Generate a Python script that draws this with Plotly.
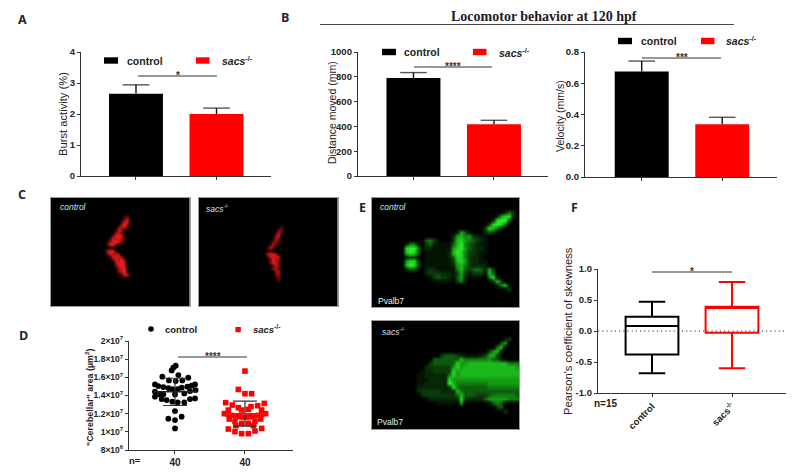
import plotly.graph_objects as go

W, H = 795, 473

# ---------- data ----------
GROUPS = ["control", "sacs-/-"]
burst_mean = [2.65, 2.0]
burst_err = [0.29, 0.19]
distance_mean = [790, 417]
distance_err = [44, 32]
velocity_mean = [0.676, 0.337]
velocity_err = [0.066, 0.045]

area_ctrl_dx = [.01,-.024,-.048,.048,-.181,.19,-.086,.01,.105,-.286,.286,-.238,.238,-.167,.176,-.095,.095,-.038,.038,0,
                -.286,.295,.214,-.167,.133,0,-.286,-.214,-.19,-.119,-.038,.038,.133,.214,.286,0,.095,-.095,0,0]
area_ctrl = [1.728,1.706,1.676,1.625,1.607,1.596,1.566,1.559,1.566,1.522,1.522,1.504,1.508,1.493,1.497,1.482,1.486,1.471,1.471,1.456,
             1.442,1.46,1.449,1.412,1.423,1.412,1.387,1.412,1.361,1.35,1.332,1.324,1.324,1.361,1.368,1.229,1.167,1.145,1.13,1.038]
area_sacs_dx = [0,-.095,0,.095,-.276,.276,-.181,.181,-.095,.086,-.048,.048,-.238,.238,-.295,.295,-.238,.238,-.19,.19,
                -.133,.133,-.076,.076,-.024,.024,-.224,.224,-.143,.143,-.048,.048,-.129,.119,-.238,.238,-.143,.143,-.048,.048]
area_sacs = [1.669,1.467,1.42,1.42,1.321,1.313,1.295,1.288,1.266,1.277,1.24,1.247,1.24,1.24,1.2,1.2,1.192,1.192,1.181,1.181,
             1.174,1.174,1.167,1.167,1.163,1.163,1.141,1.141,1.112,1.112,1.093,1.093,1.068,1.068,1.031,1.038,1.002,1.009,.98,.98]
area_mean = [1.44, 1.2]
area_sd = [0.15, 0.137]
area_ticks = [0.8, 1.0, 1.2, 1.4, 1.6, 1.8, 2.0]
area_ticktext = ["8×10<sup>6</sup>", "1×10<sup>7</sup>", "1.2×10<sup>7</sup>", "1.4×10<sup>7</sup>",
                 "1.6×10<sup>7</sup>", "1.8×10<sup>7</sup>", "2×10<sup>7</sup>"]

skew_low = [-0.68, -0.60]
skew_q1 = [-0.38, -0.03]
skew_med = [0.08, 0.37]
skew_q3 = [0.23, 0.39]
skew_high = [0.47, 0.79]

# Micrographs as coarse intensity grids (0-9).
C_CONTROL = ["00000000000120000000","00000000000460000000","00000000003780000000","00000000006960000000",
             "00000000057840000000","00000000286300000000","00000001675000000000","00000005897300000000",
             "00000038787300000000","00000268985000000000","00000389520000000000","00000110000000000000",
             "00000689300000000000","00000487760000000000","00000038886000000000","00000005879500000000",
             "00000000789700000000","00000000589700000000","00000000268900000000","00000000067900000000",
             "00000000005870000000","00000000001220000000"]
C_SACS = ["00000000014000000000","00000000055000000000","00000000374000000000","00000000680000000000",
          "00000002750000000000","00000005640000000000","00000037400000000000","00000276000000000000",
          "00000120000000000000","00000688620000000000","00000278870000000000","00000048760000000000",
          "00000058840000000000","00000004760000000000","00000005740000000000","00000000670000000000",
          "00000000560000000000","00000000260000000000","00000000030000000000"]
BLANK = "0" * 37
E_CONTROL = [BLANK, BLANK, BLANK,
             "0"*33+"243"+"0",
             "0"*31+"26882"+"0",
             "0"*30+"28994"+"00",
             "0"*29+"38985"+"000",
             "0"*28+"38752"+"0000",
             "0"*21+"264"+"1"+"000"+"2431"+"00000",
             "0"*20+"2675"+"6"+"3211"+"0"*8,
             "0"*13+"45"+"31"+"000"+"3786"+"5"+"4321"+"0"*8,
             "0"*8+"2552"+"0"+"34"+"211"+"11"+"4795"+"4"+"3211"+"0"*8,
             "0"*8+"8995"+"1"+"22"+"111"+"11"+"6896"+"4"+"3221"+"0"*8,
             "0"*8+"7984"+"0"+"11"+"111"+"12"+"7985"+"3"+"3211"+"0"*8,
             "0"*8+"2331"+"0"+"11"+"111"+"12"+"4885"+"3"+"2210"+"0"*8,
             "0"*8+"6883"+"0"+"11"+"111"+"11"+"3786"+"3"+"2211"+"0"*8,
             "0"*8+"7984"+"0"+"11"+"111"+"11"+"2675"+"3"+"2222"+"0"*8,
             "0"*8+"2441"+"0"+"23"+"211"+"11"+"1574"+"3"+"4542"+"6"+"3"+"0"*6,
             "0"*13+"23"+"33"+"22"+"2"+"1363"+"1"+"3331"+"7"+"4"+"0"*6,
             "0"*14+"13"+"43"+"32"+"1462"+"0"+"1100"+"58"+"1"+"00000",
             "0"*16+"11"+"11"+"0"+"352"+"0"*6+"37"+"3"+"0000",
             "0"*31+"257"+"1"+"00",
             "0"*33+"13"+"00",
             BLANK, BLANK, BLANK, BLANK]
E_SACS = [BLANK, BLANK, BLANK, BLANK,
          "0"*33+"2300",
          "0"*32+"46000",
          "0"*31+"570000",
          "0"*29+"36720000",
          "0"*17+"3444"+"3"+"211112"+"36"+"73"+"00000",
          "0"*15+"4444444"+"7"+"555555"+"6"+"44"+"21000",
          "0"*14+"3444444"+"8"+"667777777777"+"555",
          "0"*13+"2333333"+"6"+"8"+"677777777777776",
          "0"*12+"12233333"+"8"+"6"+"777777777777777",
          "0"*11+"11222222"+"5"+"8"+"6777777777777777",
          "0"*11+"11122222"+"8"+"6"+"6666666666666666",
          "0"*11+"11222222"+"9"+"7"+"55555555"+"66666666",
          "0"*11+"222222222"+"8"+"5"+"444444455555555",
          "0"*11+"233333"+"2222"+"7"+"5"+"44444444444444",
          "0"*12+"233333333"+"4"+"7"+"444333"+"45555554",
          "0"*14+"22222222"+"8"+"3"+"2222"+"466666555",
          "0"*16+"11111"+"0"+"6"+"0000000"+"454"+"0000",
          "0"*31+"34"+"0000",
          "0"*33+"3"+"000",
          BLANK, BLANK, BLANK, BLANK]
TITLE = "Locomotor behavior at 120 hpf"
SACS_LABEL = "<i>sacs</i><sup>-/-</sup>"

# ---------- layout helpers ----------
FONT = "Liberation Sans"
INK = "#222222"
AXIS = "#333333"

def fx(p): return p / W
def fy(p): return 1 - p / H

def grid(rows):
    return [[int(c) for c in r] for r in rows]

def pad(rows, left, top, ncol, nrow):
    g = [[0] * ncol for _ in range(nrow)]
    for j, r in enumerate(rows):
        for i, c in enumerate(r):
            g[top + j][left + i] = int(c)
    return g

fig = go.Figure()
layout = dict(width=W, height=H, margin=dict(l=0, r=0, t=0, b=0, autoexpand=False), paper_bgcolor="white",
              plot_bgcolor="white", showlegend=False, font=dict(family=FONT, color=INK))
shapes, ann = [], []

def note(text, x, y, size=10, bold=False, color=INK, anchor="left", family=FONT, angle=0):
    t = f"<b>{text}</b>" if bold else text
    ann.append(dict(text=t, x=fx(x), y=fy(y), xref="paper", yref="paper", showarrow=False, xanchor=anchor,
                    yanchor="middle", textangle=angle, font=dict(size=size, color=color, family=family)))

def rect(x0, y0, x1, y1, color, kind="rect"):
    shapes.append(dict(type=kind, xref="paper", yref="paper", x0=fx(x0), x1=fx(x1), y0=fy(y0), y1=fy(y1),
                       fillcolor=color, line=dict(width=0)))

def seg(x0, x1, y, color="#333333", w=1.2):
    shapes.append(dict(type="line", xref="paper", yref="paper", x0=fx(x0), x1=fx(x1), y0=fy(y), y1=fy(y),
                       line=dict(color=color, width=w)))

def axes(n, left, right, top, bottom, xr, yr, tickvals, ticktext=None, tfs=9.5, angle=0, xticks=None, xtickfs=10):
    k = "" if n == 1 else str(n)
    layout["xaxis" + k] = dict(domain=[fx(left), fx(right)], range=xr, anchor="y" + k, showgrid=False, zeroline=False,
                               showline=True, linecolor=AXIS, linewidth=1.3, ticks="outside", ticklen=3,
                               tickwidth=1.2, tickcolor=AXIS, tickvals=[0, 1], showticklabels=bool(xticks),
                               ticktext=xticks, tickangle=angle,
                               tickfont=dict(size=xtickfs, family=FONT, color=INK, weight="bold"))
    layout["yaxis" + k] = dict(domain=[fy(bottom), fy(top)], range=yr, anchor="x" + k, showgrid=False, zeroline=False,
                               showline=True, linecolor=AXIS, linewidth=1.3, ticks="outside", ticklen=3,
                               tickwidth=1.2, tickcolor=AXIS, tickvals=tickvals, ticktext=ticktext,
                               tickfont=dict(size=tfs, family=FONT, color=INK, weight="bold"))

def ytitle(text, x, y, size=11.2, bold=False):
    note(text, x, y, size=size, bold=bold, anchor="center", angle=-90)

def bars(n, values, errs, cap=19):
    k = "" if n == 1 else str(n)
    fig.add_trace(go.Bar(x=[0, 1], y=values, width=0.67, marker=dict(color=["#000000", "#ff0000"], line=dict(width=0)),
                         xaxis="x" + k, yaxis="y" + k, name="", hoverinfo="y"))
    for i in range(2):
        fig.add_trace(go.Scatter(x=[i, i], y=[values[i], values[i] + errs[i]], mode="lines+markers",
                                 line=dict(color="#111111", width=1.4),
                                 marker=dict(symbol="line-ew", size=[0, cap], line=dict(color="#111111", width=1.4)),
                                 xaxis="x" + k, yaxis="y" + k, name="", hoverinfo="skip"))

def legend_block(y, x1, x2, x3, x4):
    rect(x1, y - 3.2, x1 + 14, y + 3.2, "#000000")
    note("control", x2, y, size=10.5, bold=True)
    rect(x3, y - 3.2, x3 + 13.5, y + 3.2, "#ff0000")
    note(SACS_LABEL, x4, y, size=10.5, bold=True)

def sig(x0, x1, y, stars):
    seg(x0, x1, y)
    note(stars, (x0 + x1) / 2, y - 1, size=10, bold=True, anchor="center", color="#333333")

def image(n, left, right, top, bottom, z, ncol, nrow, scale):
    k = str(n)
    fig.add_trace(go.Heatmap(z=z, zmin=0, zmax=9, zsmooth="best", showscale=False, hoverinfo="skip",
                             colorscale=scale, xaxis="x" + k, yaxis="y" + k))
    for ax, dom, rng in (("xaxis", [fx(left), fx(right)], [-0.5, ncol - 0.5]),
                         ("yaxis", [fy(bottom), fy(top)], [nrow - 0.5, -0.5])):
        other = "y" if ax == "xaxis" else "x"
        layout[ax + k] = dict(domain=dom, range=rng, anchor=other + k, showgrid=False, zeroline=False, showticklabels=False,
                              ticks="", showline=True, mirror=True, linecolor="#9a9a9a", linewidth=1)

RED_SCALE = [[0, "#000000"], [0.4, "#400808"], [0.7, "#a01010"], [1, "#f02020"]]
GREEN_SCALE = [[0, "#000000"], [0.33, "#0a3a0a"], [0.66, "#149a14"], [1, "#28f028"]]

# ---------- panel A ----------
axes(1, 81, 271, 52, 176, [-0.683, 1.677], [0, 4], [0, 1, 2, 3, 4], ["0", "1", "2", "3", "4"])
bars(1, burst_mean, burst_err)
ytitle("Burst activity (%)", 63, 114)
legend_block(60.5, 104, 125, 196, 220)
sig(138, 217, 76, "*")

# ---------- panel B ----------
axes(2, 358, 548, 52, 176, [-0.689, 1.671], [0, 1000], [0, 200, 400, 600, 800, 1000],
     ["0", "200", "400", "600", "800", "1000"])
bars(2, distance_mean, distance_err)
ytitle("Distance moved (mm)", 332, 113, size=10.5)
legend_block(52, 382, 402, 473, 497)
sig(414, 492, 67, "****")

axes(3, 585, 777, 52, 177, [-0.704, 1.68], [0, 0.8], [0, 0.2, 0.4, 0.6, 0.8], ["0.0", "0.2", "0.4", "0.6", "0.8"])
bars(3, velocity_mean, velocity_err)
ytitle("Velocity (mm/s)", 560, 116, size=10.5)
legend_block(41, 618, 639, 701, 724)
sig(642, 721, 58, "***")
note(TITLE, 544, 16, size=14, bold=True, anchor="center", family="Liberation Serif", color="#1a1a2a")
seg(320, 734, 24.5, "#444444", 1)

# ---------- panel C ----------
image(4, 51, 189.5, 198, 306, pad(C_CONTROL, 13, 5, 46, 36), 46, 36, RED_SCALE)
image(5, 199, 337.5, 198, 306, pad(C_SACS, 17, 9, 46, 36), 46, 36, RED_SCALE)
note("<i>control</i>", 58, 207, size=8.5, color="#cfe4f0")
note(SACS_LABEL, 204, 208, size=8.5, color="#cfe4f0")

# ---------- panel D ----------
axes(6, 129, 293, 341, 450, [-0.657, 1.686], [0.8, 2.0], area_ticks, area_ticktext, tfs=8.5, xticks=["40", "40"])
ytitle('"Cerebellar" area (µm<sup>2</sup>)', 89, 398, size=8.9, bold=True)
fig.add_trace(go.Scatter(x=area_ctrl_dx, y=area_ctrl, mode="markers", xaxis="x6", yaxis="y6",
                         marker=dict(symbol="circle", size=5.8, color="#000000"), name="control"))
fig.add_trace(go.Scatter(x=[1 + d for d in area_sacs_dx], y=area_sacs, mode="markers", xaxis="x6", yaxis="y6",
                         marker=dict(symbol="square", size=5.6, color="#ff0000"), name="sacs"))
for i, col in enumerate(["#222222", "#ff1010"]):
    fig.add_trace(go.Scatter(x=[i], y=[area_mean[i]], mode="markers", xaxis="x6", yaxis="y6",
                             marker=dict(symbol="line-ew", size=31, line=dict(color=col, width=1.5)),
                             error_y=dict(type="data", array=[area_sd[i]], color="#333333", thickness=1.2, width=12)))
rect(148.2, 326.2, 153.8, 331.8, "#000000", kind="circle")
rect(235.4, 327, 240.8, 332.2, "#ff0000")
note("control", 163, 329, size=9.5, bold=True)
note(SACS_LABEL, 251, 329, size=9.5, bold=True)
note("n=", 127, 460, size=9.5, bold=True)
sig(178, 247, 357, "****")

# ---------- panel E ----------
image(7, 372, 519, 198, 307, grid(E_CONTROL), 37, 27, GREEN_SCALE)
image(8, 372, 519, 321, 429, grid(E_SACS), 37, 27, GREEN_SCALE)
note("<i>control</i>", 378, 207, size=8.5, color="#cfe4f0")
note("Pvalb7", 376, 301, size=8.5, color="#e6f0e6")
note(SACS_LABEL, 380, 331, size=8.5, color="#cfe4f0")
note("Pvalb7", 375, 422, size=8.5, color="#e6f0e6")

# ---------- panel F ----------
axes(9, 598, 786, 269, 393, [-0.675, 1.675], [-1, 1], [-1, -0.5, 0, 0.5, 1],
     ["-1.0", "-0.5", "0.0", "0.5", "1.0"], xticks=["control", "sacs<sup>-/-</sup>"], angle=-45, xtickfs=9.5)
ytitle("Pearson's coefficient of skewness", 568, 331)
for i, col in enumerate(["#000000", "#ff0000"]):
    fig.add_trace(go.Box(x=[i], lowerfence=[skew_low[i]], q1=[skew_q1[i]], median=[skew_med[i]], q3=[skew_q3[i]],
                         upperfence=[skew_high[i]], width=0.66, whiskerwidth=0.5, fillcolor="rgba(0,0,0,0)",
                         line=dict(color=col, width=2), xaxis="x9", yaxis="y9", boxpoints=False, name=GROUPS[i]))
shapes.append(dict(type="line", xref="x9 domain", yref="y9", x0=0, x1=1, y0=0, y1=0,
                   line=dict(color="#333333", width=1.1, dash="1.2px,3px")))
note("n=15", 592, 403, size=10, bold=True)
sig(652, 732, 272, "*")

# ---------- panel letters ----------
for letter, x, y in [("A", 22, 19), ("B", 285, 18), ("C", 22, 194), ("D", 23, 335), ("E", 362, 207), ("F", 574, 207)]:
    note(letter, x, y, size=12.5, bold=True, anchor="center", family="Open Sans", color="#1c2430")

layout["shapes"] = shapes
layout["annotations"] = ann
fig.update_layout(**layout)
fig.write_html("out.html", config=dict(displayModeBar=False),
               post_script="document.body.style.margin='0';document.body.style.overflow='hidden';")
